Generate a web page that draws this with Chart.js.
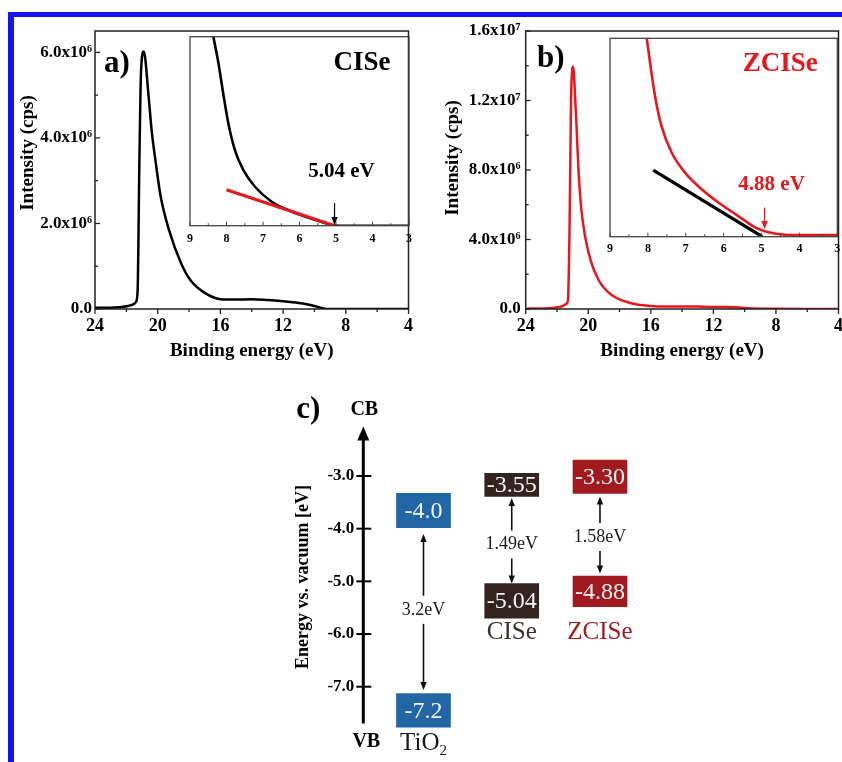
<!DOCTYPE html>
<html><head><meta charset="utf-8">
<script src="https://cdn.jsdelivr.net/npm/chart.js@4.4.1/dist/chart.umd.min.js"></script>
<style>
html,body{margin:0;padding:0;background:#fff;overflow:hidden;}
#wrap{position:relative;width:842px;height:762px;overflow:hidden;background:#fff;}
canvas{position:absolute;display:block;}
#frame{position:absolute;left:8px;top:12px;width:1000px;height:1000px;border-top:5px solid #1414f0;border-left:6px solid #1414f0;box-sizing:border-box;}
</style></head>
<body><div id="wrap">
<div id="frame"></div>
<canvas id="ca" width="420" height="370" style="left:0;top:0;width:420px;height:370px"></canvas>
<canvas id="cai" width="240" height="225" style="left:180px;top:30px;width:240px;height:225px"></canvas>
<canvas id="cb" width="430" height="370" style="left:420px;top:0;width:430px;height:370px"></canvas>
<canvas id="cbi" width="250" height="235" style="left:600px;top:30px;width:250px;height:235px"></canvas>
<canvas id="cc" width="380" height="372" style="left:280px;top:390px;width:380px;height:372px"></canvas>
</div>
<script>
const F = '"Liberation Serif","Times New Roman",Times,serif';

// ---------- Panel a : CISe (intensity in 1e6 cps) ----------
const aEnergy    = [24, 23, 22.5, 21.9, 21.5, 21.38, 21.28, 21.17, 21.06, 20.89, 20.58, 20.39, 20.12, 19.81, 19.28, 18.51, 17.92, 16.97, 16.0, 15.0, 14.0, 13.0, 12.0, 11.0, 10.5, 10.0, 9.5, 9.0, 8.0, 6.0, 4.0];
const aIntensity = [0.03, 0.03, 0.04, 0.07, 0.12, 0.17, 0.44, 3.41, 5.59, 6.02, 4.97, 4.19, 3.41, 2.63, 1.85, 1.07, 0.68, 0.37, 0.23, 0.22, 0.23, 0.21, 0.18, 0.14, 0.11, 0.07, 0.02, 0, 0, 0, 0];
const aYTicks  = [0, 2e6, 4e6, 6e6];
const aYLabels = ['0.0', '2.0x10\u2076', '4.0x10\u2076', '6.0x10\u2076'];
const aYMinor  = [1e6, 3e6, 5e6];
// inset a (arbitrary units 0-100)
const aiEnergy = [8.36, 8.22, 8.09, 7.95, 7.77, 7.54, 7.22, 6.76, 6.31, 5.85, 5.48, 5.12, 4.9, 4.5, 4.0, 3.0];
const aiSignal = [100, 85.9, 70, 54.2, 40, 29.5, 20.6, 12.7, 8.3, 4.8, 2.5, 0.4, 0, 0, 0, 0];
const aiFitEnergy = [8.0, 5.04];
const aiFitSignal = [19, 0];
const aOnset = 5.04, aOnsetLabel = '5.04 eV', aArrow = [12, 0.4];

// ---------- Panel b : ZCISe (intensity in 1e6 cps) ----------
const bEnergy    = [24, 23, 22.3, 21.6, 21.4, 21.3, 21.2, 21.1, 20.97, 20.8, 20.6, 20.39, 19.97, 19.34, 18.5, 17.25, 16, 15, 14, 13, 12, 11, 10, 9, 8, 6, 4];
const bIntensity = [0.02, 0.03, 0.06, 0.18, 0.3, 0.5, 4.4, 12.0, 13.95, 11.45, 7.6, 5.3, 3.2, 1.67, 0.8, 0.33, 0.17, 0.14, 0.15, 0.14, 0.12, 0.12, 0.06, 0.02, 0.01, 0, 0];
const bYTicks  = [0, 4e6, 8e6, 1.2e7, 1.6e7];
const bYLabels = ['0.0', '4.0x10\u2076', '8.0x10\u2076', '1.2x10\u2077', '1.6x10\u2077'];
const bYMinor  = [2e6, 6e6, 1e7, 1.4e7];
const biEnergy = [8.03, 7.94, 7.81, 7.64, 7.37, 7.02, 6.58, 6.14, 5.62, 5.17, 4.82, 4.38, 3.85, 3.0];
const biSignal = [100, 87.4, 70.7, 55.7, 42.3, 32.3, 23.9, 17.2, 10.5, 4.7, 2.2, 1.0, 0.8, 0.8];
const biFitEnergy = [7.86, 4.98];
const biFitSignal = [33.5, 0];
const bOnset = 4.92, bOnsetLabel = '4.88 eV', bArrow = [14.7, 3.9];

// shared tick arrays
const mainXTicks = [24, 20, 16, 12, 8, 4];
const mainXMinor = [22, 18, 14, 10, 6];
const insetXTicks = [9, 8, 7, 6, 5, 4, 3];
const insetXMinor = [8.5, 7.5, 6.5, 5.5, 4.5, 3.5];

// ---------- Panel c : band diagram (eV vs vacuum) ----------
const cMaterials = ['TiO2', 'CISe', 'ZCISe'];
const cCBText = ['-4.0', '-3.55', '-3.30'];
const cVBText = ['-7.2', '-5.04', '-4.88'];
const cGapText = ['3.2eV', '1.49eV', '1.58eV'];
const cCBBox = [[-3.98, -3.33], [-3.39, -2.95], [-3.33, -2.70]];
const cVBBox = [[-7.77, -7.13], [-5.70, -5.04], [-5.48, -4.90]];
const cArrowUp   = [-4.10, -3.42, -3.39];
const cArrowDown = [-7.06, -5.04, -4.85];
const cGapMid    = [-5.54, -4.30, -4.16];
const cYTicks  = [-3, -4, -5, -6, -7];
const cYLabels = ['-3.0', '-4.0', '-5.0', '-6.0', '-7.0'];
const cAxisRange = [-7.70, -2.06];
const cColors = ['#2366a5', '#33241f', '#a11a1f'];
const cNameColors = ['#1a1a1a', '#3b302c', '#a31b20'];

// ---------- helpers ----------
function txt(ctx, s, x, y, font, color, align, rot) {
  ctx.save(); ctx.translate(x, y); if (rot) ctx.rotate(rot);
  ctx.font = font; ctx.fillStyle = color; ctx.textAlign = align || 'center'; ctx.textBaseline = 'middle';
  ctx.fillText(s, 0, 0); ctx.restore();
}
function seg(ctx, x1, y1, x2, y2) { ctx.beginPath(); ctx.moveTo(x1, y1); ctx.lineTo(x2, y2); ctx.stroke(); }
function vArrow(ctx, x, yFrom, yTo, color, lw, hl, hw) {
  const d = yTo > yFrom ? 1 : -1;
  ctx.save(); ctx.strokeStyle = color; ctx.fillStyle = color; ctx.lineWidth = lw;
  seg(ctx, x, yFrom, x, yTo - d * hl * 0.8);
  ctx.beginPath(); ctx.moveTo(x, yTo); ctx.lineTo(x - hw, yTo - d * hl); ctx.lineTo(x + hw, yTo - d * hl); ctx.closePath(); ctx.fill();
  ctx.restore();
}
function axesDeco(o) {
  return { id: 'axesDeco', afterDraw(chart) {
    const { ctx, chartArea: c, scales: { x, y } } = chart;
    ctx.save();
    ctx.strokeStyle = o.frameColor; ctx.lineWidth = o.frameWidth;
    ctx.strokeRect(c.left, c.top, c.right - c.left, c.bottom - c.top);
    ctx.lineWidth = o.tickWidth;
    o.xMajor.forEach(v => { const p = x.getPixelForValue(v); seg(ctx, p, c.bottom, p, c.bottom + o.xDir * o.major); });
    o.xMinor.forEach(v => { const p = x.getPixelForValue(v); seg(ctx, p, c.bottom, p, c.bottom + o.xDir * o.minor); });
    if (o.yMajor) {
      o.yMajor.forEach(v => { const p = y.getPixelForValue(v); seg(ctx, c.left, p, c.left + o.major, p); });
      o.yMinor.forEach(v => { const p = y.getPixelForValue(v); seg(ctx, c.left, p, c.left + o.minor, p); });
    }
    ctx.restore();
    if (o.draw) o.draw(chart, ctx, c, x, y);
  } };
}

function mainChart(id, o) {
  return new Chart(document.getElementById(id), {
    type: 'line',
    data: { datasets: [{ data: o.E.map((e, i) => ({ x: e, y: o.I[i] * 1e6 })), borderColor: o.color, borderWidth: 2.5,
      pointRadius: 0, cubicInterpolationMode: 'monotone', fill: false }] },
    options: {
      responsive: false, animation: false, events: [],
      layout: { padding: { left: 0, top: 31, right: o.padRight, bottom: 0 } },
      plugins: { legend: { display: false }, tooltip: { enabled: false } },
      scales: {
        x: { type: 'linear', reverse: true, min: 4, max: 24, offset: false,
          afterBuildTicks: s => { s.ticks = mainXTicks.map(v => ({ value: v })); },
          afterFit: s => { s.height = 61; },
          grid: { display: false, drawTicks: false }, border: { display: false },
          ticks: { autoSkip: false, maxRotation: 0, padding: 7, color: '#000', font: { family: F, size: 18, weight: 'bold' }, callback: v => String(v) },
          title: { display: true, text: 'Binding energy (eV)', color: '#000', font: { family: F, size: 19, weight: 'bold' }, padding: { top: 0, bottom: 8 } } },
        y: { type: 'linear', min: 0, max: o.yMax,
          afterBuildTicks: s => { s.ticks = o.yTicks.map(v => ({ value: v })); },
          afterFit: s => { s.width = o.yWidth; },
          grid: { display: false, drawTicks: false }, border: { display: false },
          ticks: { padding: o.yPad, color: '#000', font: { family: F, size: 17, weight: 'bold' }, callback: (v, i) => o.yLabels[i] } }
      }
    },
    plugins: [axesDeco({ frameColor: '#222', frameWidth: 1.5, tickWidth: 1.3, major: 5, minor: 3, xDir: 1,
      xMajor: mainXTicks, xMinor: mainXMinor, yMajor: o.yTicks, yMinor: o.yMinor,
      draw(chart, ctx, c) {
        txt(ctx, o.panel, c.left + o.panelDX, c.top + o.panelDY, 'bold 31px ' + F, '#000');
        txt(ctx, 'Intensity (cps)', c.left - o.titleDX, c.top + o.titleDY, 'bold 19px ' + F, '#000', 'center', -Math.PI / 2);
      } })]
  });
}

function insetChart(id, o) {
  return new Chart(document.getElementById(id), {
    type: 'line',
    data: { datasets: [
      { data: o.fitE.map((e, i) => ({ x: e, y: o.fitS[i] })), borderColor: o.fitColor, borderWidth: 3.2, pointRadius: 0, fill: false },
      { data: o.E.map((e, i) => ({ x: e, y: o.S[i] })), borderColor: o.color, borderWidth: 2.6, pointRadius: 0, cubicInterpolationMode: 'monotone', fill: false }
    ] },
    options: {
      responsive: false, animation: false, events: [],
      layout: { padding: o.pad },
      plugins: { legend: { display: false }, tooltip: { enabled: false } },
      scales: {
        x: { type: 'linear', reverse: true, min: 3, max: 9, offset: false,
          afterBuildTicks: s => { s.ticks = insetXTicks.map(v => ({ value: v })); },
          afterFit: s => { s.height = o.xHeight; },
          grid: { display: false, drawTicks: false }, border: { display: false },
          ticks: { autoSkip: false, maxRotation: 0, padding: o.xPad, color: '#000', font: { family: F, size: 12, weight: 'bold' }, callback: v => String(v) } },
        y: { display: false, min: 0, max: 100 }
      }
    },
    plugins: [axesDeco({ frameColor: '#444', frameWidth: 1.3, tickWidth: 1, major: 4, minor: 2.5, xDir: -1,
      xMajor: insetXTicks, xMinor: insetXMinor,
      draw(chart, ctx, c, x, y) {
        const ax = x.getPixelForValue(o.onset), y1 = y.getPixelForValue(o.arrow[0]), y2 = y.getPixelForValue(o.arrow[1]);
        vArrow(ctx, ax, y1, y2, o.labelColor, 1.2, 8, 3.2);
        txt(ctx, o.onsetLabel, ax + 7, y1 - o.labelGap, 'bold 21px ' + F, o.labelColor);
        txt(ctx, o.name, c.right - o.nameDX, c.top + 26, 'bold 27px ' + F, o.labelColor);
      } })]
  });
}

// ---------- build ----------
mainChart('ca', { E: aEnergy, I: aIntensity, color: '#000', yMax: 6.5e6, yTicks: aYTicks, yLabels: aYLabels, yMinor: aYMinor,
  yWidth: 95, yPad: 3, padRight: 7, panel: 'a)', panelDX: 22, panelDY: 33, titleDX: 67, titleDY: 122 });
insetChart('cai', { E: aiEnergy, S: aiSignal, color: '#000', fitE: aiFitEnergy, fitS: aiFitSignal, fitColor: '#e8161d',
  pad: { left: 10, top: 6.7, right: 11, bottom: 0 }, xHeight: 29.3, xPad: 6,
  onset: aOnset, arrow: aArrow, onsetLabel: aOnsetLabel, labelColor: '#000', labelGap: 31, name: 'CISe', nameDX: 47 });
mainChart('cb', { E: bEnergy, I: bIntensity, color: '#e8161d', yMax: 1.6e7, yTicks: bYTicks, yLabels: bYLabels, yMinor: bYMinor,
  yWidth: 105.7, yPad: 5, padRight: 6, panel: 'b)', panelDX: 25, panelDY: 28, titleDX: 72.7, titleDY: 127 });
insetChart('cbi', { E: biEnergy, S: biSignal, color: '#e8161d', fitE: biFitEnergy, fitS: biFitSignal, fitColor: '#000',
  pad: { left: 10, top: 8.3, right: 12.7, bottom: 0 }, xHeight: 28.3, xPad: 5,
  onset: bOnset, arrow: bArrow, onsetLabel: bOnsetLabel, labelColor: '#e8161d', labelGap: 23, name: 'ZCISe', nameDX: 57 });

const cPlugin = { id: 'cDeco', afterDraw(chart) {
  const { ctx, chartArea: c, scales: { x, y } } = chart;
  const ax = c.left;
  const yTop = y.getPixelForValue(cAxisRange[1]), yBot = y.getPixelForValue(cAxisRange[0]);
  ctx.save();
  ctx.strokeStyle = '#000'; ctx.fillStyle = '#000'; ctx.lineWidth = 3;
  seg(ctx, ax, yBot, ax, yTop + 10);
  ctx.beginPath(); ctx.moveTo(ax, yTop); ctx.lineTo(ax - 6, yTop + 14); ctx.lineTo(ax + 6, yTop + 14); ctx.closePath(); ctx.fill();
  ctx.lineWidth = 2;
  cYTicks.forEach(v => { const p = y.getPixelForValue(v); seg(ctx, ax - 7, p, ax + 8, p); });
  ctx.restore();
  // boxes text and gap arrows
  const bottoms = [];
  cMaterials.forEach((m, i) => {
    const cx = x.getPixelForValue(i);
    const cbY = (y.getPixelForValue(cCBBox[i][0]) + y.getPixelForValue(cCBBox[i][1])) / 2;
    const vbY = (y.getPixelForValue(cVBBox[i][0]) + y.getPixelForValue(cVBBox[i][1])) / 2;
    txt(ctx, cCBText[i], cx, cbY + 1, '24px ' + F, '#f4f4f4');
    txt(ctx, cVBText[i], cx, vbY + 1, '24px ' + F, '#f4f4f4');
    const mid = y.getPixelForValue(cGapMid[i]);
    vArrow(ctx, cx, mid - 14, y.getPixelForValue(cArrowUp[i]), '#111', 1.6, 8, 3.2);
    vArrow(ctx, cx, mid + 14, y.getPixelForValue(cArrowDown[i]), '#111', 1.6, 8, 3.2);
    txt(ctx, cGapText[i], cx, mid, '18px ' + F, '#1a1a1a');
    bottoms.push(y.getPixelForValue(cVBBox[i][0]));
  });
  // material names
  ctx.save();
  const tx = x.getPixelForValue(0), ty = bottoms[0] + 16;
  ctx.font = '25px ' + F; const w1 = ctx.measureText('TiO').width;
  ctx.font = '15px ' + F; const w2 = ctx.measureText('2').width;
  txt(ctx, 'TiO', tx - (w1 + w2) / 2, ty, '25px ' + F, cNameColors[0], 'left');
  txt(ctx, '2', tx - (w1 + w2) / 2 + w1, ty + 8, '15px ' + F, cNameColors[0], 'left');
  ctx.restore();
  const ny = Math.max(bottoms[1], bottoms[2]) + 14;
  txt(ctx, cMaterials[1], x.getPixelForValue(1), ny, '25px ' + F, cNameColors[1]);
  txt(ctx, cMaterials[2], x.getPixelForValue(2), ny, '25px ' + F, cNameColors[2]);
  // labels
  txt(ctx, 'c)', ax - 55, c.top - 13, 'bold 31px ' + F, '#000');
  txt(ctx, 'CB', ax + 1, c.top - 13, 'bold 20px ' + F, '#000');
  txt(ctx, 'VB', ax + 3, yBot + 18, 'bold 20px ' + F, '#000');
  txt(ctx, 'Energy vs. vacuum [eV]', ax - 60, (yTop + yBot) / 2 + 2, 'bold 18px ' + F, '#000', 'center', -Math.PI / 2);
} };

new Chart(document.getElementById('cc'), {
  type: 'bar',
  data: { datasets: [
    { data: cCBBox.map((b, i) => ({ x: i, y: b })), backgroundColor: cColors, grouped: false, barThickness: 54, borderWidth: 0 },
    { data: cVBBox.map((b, i) => ({ x: i, y: b })), backgroundColor: cColors, grouped: false, barThickness: 54, borderWidth: 0 }
  ] },
  options: {
    responsive: false, animation: false, events: [],
    layout: { padding: { left: 0, right: 0, top: 33.3, bottom: 22.6 } },
    plugins: { legend: { display: false }, tooltip: { enabled: false } },
    scales: {
      x: { type: 'linear', display: false, min: -0.682, max: 2.68, offset: false },
      y: { min: -8, max: -2,
        afterBuildTicks: s => { s.ticks = cYTicks.map(v => ({ value: v })); },
        afterFit: s => { s.width = 83.3; },
        grid: { display: false, drawTicks: false }, border: { display: false },
        ticks: { padding: 9, color: '#000', font: { family: F, size: 17, weight: 'bold' }, callback: (v, i) => cYLabels[i] } }
    }
  },
  plugins: [cPlugin]
});
</script></body></html>
